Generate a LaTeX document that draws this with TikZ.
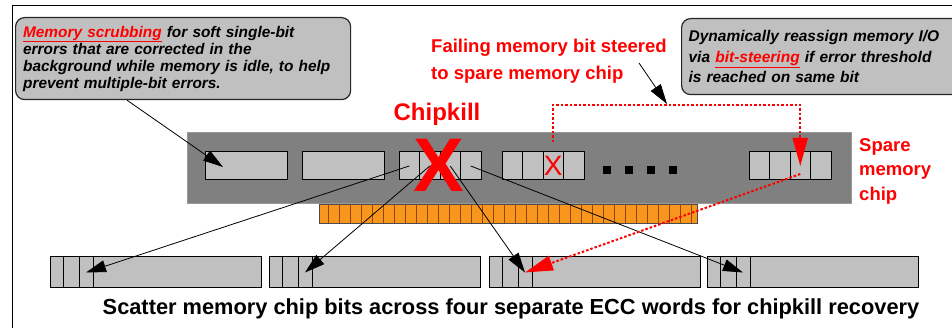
\documentclass[tikz,border=0pt]{standalone}
\usepackage{fontspec}
\setmainfont{Liberation Sans}
\usetikzlibrary{arrows.meta,positioning,calc}
\definecolor{chipgray}{RGB}{192,192,192}
\definecolor{dimmgray}{RGB}{128,128,128}
\definecolor{ddrorange}{RGB}{248,150,30}
\definecolor{ddrbrown}{RGB}{140,70,10}
\definecolor{alertred}{RGB}{255,0,0}

\begin{document}
\begin{tikzpicture}[x=1pt, y=-1pt, every node/.style={inner sep=0pt},
    callout/.style={draw=black!85, fill=chipgray, rounded corners=9pt, line width=1.2pt, align=left},
    cellbox/.style={draw, fill=chipgray, line width=1pt, minimum width=20.5pt, minimum height=28pt},
    wordbox/.style={draw, fill=chipgray, line width=1pt, minimum width=211pt, minimum height=31pt},
    bitarrow/.style={-{Triangle[length=20pt,width=12pt]}, line width=0.8pt},
    steer/.style={alertred, line width=2pt, dash pattern=on 2.5pt off 2pt, -{Triangle[length=28pt,width=15pt]}}]
            \useasboundingbox (0,0) rectangle (952,328);
            \draw[line width=1pt] (12,328) -- (12,6) -- (952,6);

            % Callouts
            \node[callout, anchor=north west, minimum width=335pt, minimum height=82pt, text width=320pt, inner xsep=7.5pt,
                font=\fontsize{15.4}{17}\selectfont\bfseries\itshape] (scrub) at (15,17)
                {\textcolor{alertred}{\underline{Memory scrubbing}} for soft single-bit\\errors that are corrected in the\\background while memory is idle, to help\\prevent multiple-bit errors.};
            \node[callout, anchor=north west, minimum width=300pt, minimum height=76pt, text width=286pt, inner xsep=7pt,
                font=\fontsize{15.5}{20.6}\selectfont\bfseries\itshape] (reassign) at (681,18)
                {Dynamically reassign memory I/O\\via \textcolor{alertred}{\underline{bit-steering}} if error threshold\\is reached on same bit};
            \node[text=alertred, align=left, anchor=west, font=\fontsize{18.5}{27}\selectfont\bfseries] (failtext) at (431,61.1) {Failing memory bit steered\\to spare memory chip};
            \node[text=alertred, anchor=base, font=\fontsize{24}{24}\selectfont\bfseries] (chipkill) at (437,121) {Chipkill};
            \node[text=alertred, align=left, anchor=west, font=\fontsize{18.5}{24.5}\selectfont\bfseries] (sparetext) at (859,171.3) {Spare\\memory\\chip};

            % DIMM with chips
            \node[draw=black!40, fill=dimmgray, line width=1pt, minimum width=664pt, minimum height=71pt, anchor=north west] (dimm) at (187,132) {};
            \node[draw=black!70, fill=ddrorange, line width=0.8pt, minimum width=378pt, minimum height=19pt, anchor=north west] (bar) at (319,204) {};
            \foreach \k in {0,...,33}
                \draw[ddrbrown, line width=0.7pt] (328+11*\k,204) -- (328+11*\k,223);
            \node[cellbox, minimum width=82pt] (ch1) at (246,166) {};
            \node[cellbox, minimum width=82pt] (ch2) at (343.5,166) {};
            \foreach \i in {1,...,4} {
                \node[cellbox] (c3\i) at (388.75+20.5*\i,166) {};
                \node[cellbox] (c4\i) at (491.75+20.5*\i,166) {};
                \node[cellbox] (s\i) at (738.75+20.5*\i,166) {};
            }
            \foreach \x in {607,629,651,673}
                \fill (\x-4.25,165.75) rectangle ++(8.5,8.5);
            \node[text=alertred, font=\fontsize{28}{28}\selectfont] (badbit) at (c43) {X};
            \node[text=alertred, font=\fontsize{76}{76}\selectfont\bfseries] (kill) at (439,165.5) {X};

            % ECC words
            \foreach \i/\x in {1/50,2/269,3/489,4/707} {
                \node[wordbox, anchor=west] (w\i) at (\x,272.5) {};
                \draw[line width=1pt] (\x+13,257) -- (\x+13,288);
                \node[cellbox, minimum width=14pt, minimum height=31pt] (b\i) at (\x+36,272.5) {};
            }
            \node[anchor=base, font=\fontsize{21.8}{22}\selectfont\bfseries] (caption) at (511,314.5) {Scatter memory chip bits across four separate ECC words for chipkill recovery};

            % Arrows
            \coordinate (scrubfrom) at ($(scrub.south west)+(112,0)$);
            \coordinate (scrubtip) at (223,167);
            \coordinate (failfrom) at (639,63);
            \coordinate (failtip) at (667,104);
            \coordinate (steerline) at (0,105);
            \draw[bitarrow] (scrubfrom) -- (scrubtip);
            \draw[bitarrow] (failfrom) -- (failtip);
            \draw[bitarrow] (c31.center) -- (b1.center);
            \draw[bitarrow] (c32.center) -- (b2.center);
            \draw[bitarrow] (c33.center) -- (b3.center);
            \draw[bitarrow] (c34.center) -- (b4.center);
            \draw[steer] ([yshift=9pt]c43.north) -- (c43 |- steerline) -- (s3 |- steerline) -- (s3.center);
            \draw[steer] ([yshift=-8pt]s3.center) -- (b3.center);
        \end{tikzpicture}
\end{document}
